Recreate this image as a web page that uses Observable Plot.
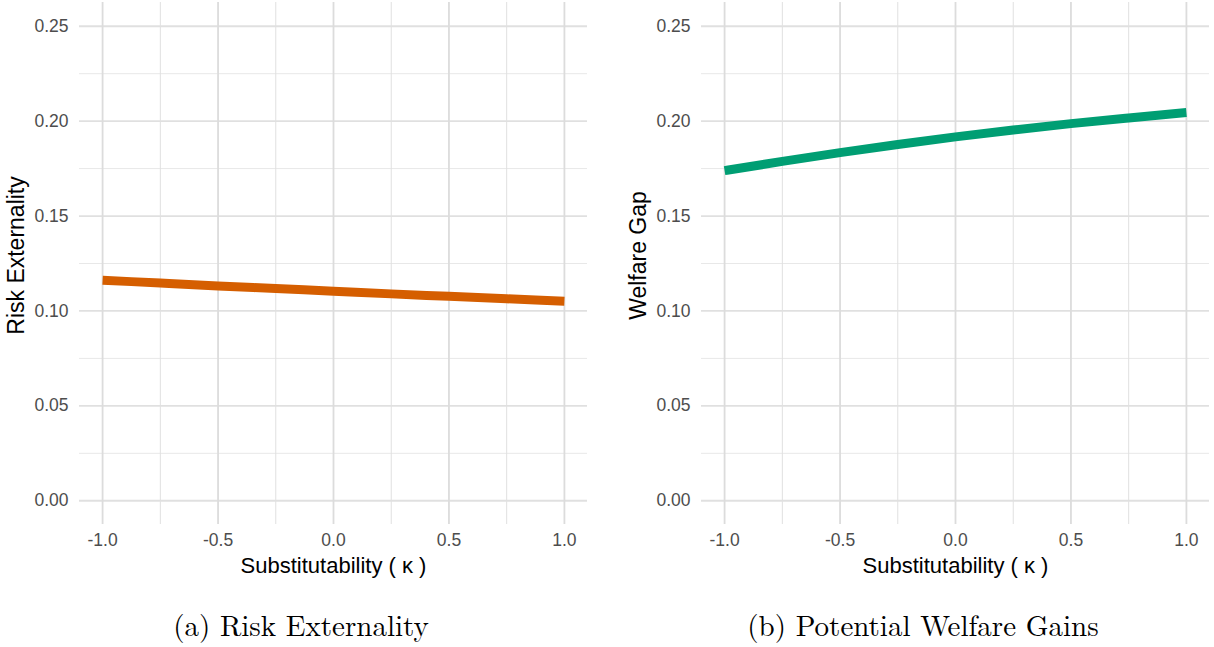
<!DOCTYPE html>
<html>
<head>
<meta charset="utf-8">
<script src="https://cdn.jsdelivr.net/npm/d3@7"></script>
<script src="https://cdn.jsdelivr.net/npm/@observablehq/plot@0.6"></script>
<style>
  html, body { margin: 0; padding: 0; background: #fff; }
  #wrap { position: relative; width: 1214px; height: 647px; overflow: hidden; }
  .panel { position: absolute; top: 0; }
  .cap { position: absolute; top: 603px; font-family: "Latin Modern Roman", "Liberation Serif", "DejaVu Serif", serif; font-size: 29px; color: #000; white-space: nowrap; transform: translateX(-50%); }
</style>
</head>
<body>
<div id="wrap">
  <div id="p1" class="panel" style="left:0px"></div>
  <div id="p2" class="panel" style="left:622px"></div>
  <div class="cap" style="left:301px">(a) Risk Externality</div>
  <div class="cap" style="left:923px">(b) Potential Welfare Gains</div>
</div>
<script>
// Data
const kappa = [-1.0, -0.75, -0.5, -0.25, 0.0, 0.25, 0.5, 0.75, 1.0];
const riskExternality = [0.1162, 0.1147, 0.1132, 0.1118, 0.1104, 0.1090, 0.1077, 0.1064, 0.1051];
const welfareGap = [0.1739, 0.1788, 0.1834, 0.1877, 0.1917, 0.1953, 0.1987, 0.2017, 0.2045];

const xMajor = [-1.0, -0.5, 0.0, 0.5, 1.0];
const xMinor = [-0.75, -0.25, 0.25, 0.75];
const yMajor = [0.00, 0.05, 0.10, 0.15, 0.20, 0.25];
const yMinor = [0.025, 0.075, 0.125, 0.175, 0.225];
const xLabel = "Substitutability ( \u03ba )";

function panel(values, color, yLabel, width) {
  const data = kappa.map((k, i) => ({k, v: values[i]}));
  return Plot.plot({
    width,
    height: 585,
    marginLeft: 79,
    marginRight: width - 587,
    marginTop: 2,
    marginBottom: 61,
    style: {fontFamily: "'Liberation Sans', Arial, sans-serif", background: "#fff", overflow: "visible"},
    x: {domain: [-1.1, 1.1]},
    y: {domain: [-0.0125, 0.2625]},
    marks: [
      Plot.ruleY(yMinor, {stroke: "#e8e8e8", strokeWidth: 1}),
      Plot.ruleX(xMinor, {stroke: "#e0e0e0", strokeWidth: 1}),
      Plot.ruleY(yMajor, {stroke: "#e0e0e0", strokeWidth: 1.8}),
      Plot.ruleX(xMajor, {stroke: "#dcdcdc", strokeWidth: 1.8}),
      Plot.axisY(yMajor, {tickSize: 0, tickPadding: 11, fontSize: 17.5, color: "#4d4d4d", tickFormat: d => d.toFixed(2), label: null}),
      Plot.axisX(xMajor, {tickSize: 0, tickPadding: 9, fontSize: 17.5, color: "#4d4d4d", tickFormat: d => d.toFixed(1), label: null}),
      Plot.text([xLabel], {frameAnchor: "bottom", dy: 48, fontSize: 22, fill: "#000"}),
      Plot.text([yLabel], {frameAnchor: "left", textAnchor: "middle", dx: -63, dy: -8, rotate: -90, fontSize: 23, fill: "#000"}),
      Plot.line(data, {x: "k", y: "v", stroke: color, strokeWidth: 9, curve: "monotone-x", strokeLinecap: "butt"})
    ]
  });
}

document.getElementById("p1").appendChild(panel(riskExternality, "#D55E00", "Risk Externality", 600));
document.getElementById("p2").appendChild(panel(welfareGap, "#009E73", "Welfare Gap", 592));
</script>
</body>
</html>
